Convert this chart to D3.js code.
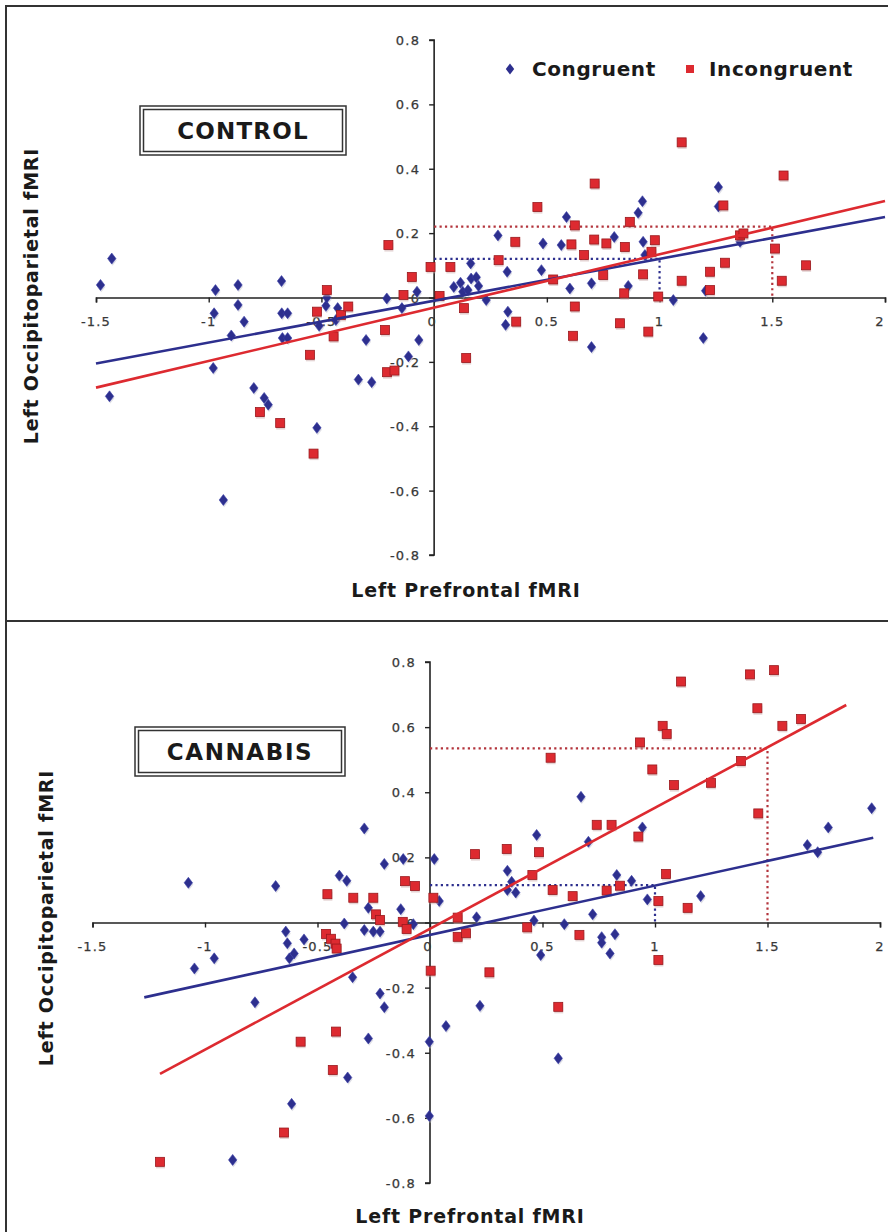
<!DOCTYPE html>
<html><head><meta charset="utf-8">
<script src="https://cdn.jsdelivr.net/npm/d3@7"></script>
<style>
body{margin:0;background:#fff;}
svg{display:block;font-family:"DejaVu Sans",Verdana,sans-serif;}
</style></head>
<body><svg id="chart" width="888" height="1232"></svg>
<script>
// ---------- DATA ----------
const xTicks = [-1.5,-1,-0.5,0,0.5,1,1.5,2];
const xTickLabels = ["-1.5","-1","-0.5","0","0.5","1","1.5","2"];
const yTicks = [-0.8,-0.6,-0.4,-0.2,0,0.2,0.4,0.6,0.8];
const yTickLabels = ["-0.8","-0.6","-0.4","-0.2","0","0.2","0.4","0.6","0.8"];
const seriesNames = ["Congruent","Incongruent"];
const panelTitles = ["CONTROL","CANNABIS"];

const controlCongruent = [[-1.48,0.039],[-1.43,0.121],[-1.44,-0.307],[-0.97,0.023],[-0.976,-0.049],[-0.98,-0.219],[-0.87,0.039],[-0.87,-0.023],[-0.843,-0.075],[-0.90,-0.118],[-0.80,-0.281],[-0.754,-0.312],[-0.736,-0.333],[-0.677,0.051],[-0.676,-0.049],[-0.65,-0.049],[-0.673,-0.126],[-0.65,-0.126],[-0.52,-0.405],[-0.48,-0.026],[-0.476,0.0],[-0.51,-0.088],[-0.428,-0.033],[-0.436,-0.07],[-0.302,-0.132],[-0.336,-0.255],[-0.277,-0.263],[-0.21,-0.003],[-0.143,-0.033],[-0.076,0.018],[-0.068,-0.132],[-0.114,-0.183],[-0.935,-0.629],[0.162,0.106],[0.087,0.033],[0.117,0.046],[0.127,0.018],[0.15,0.023],[0.164,0.059],[0.187,0.063],[0.197,0.036],[0.231,-0.008],[0.327,-0.044],[0.317,-0.085],[0.324,0.08],[0.483,0.168],[0.476,0.085],[0.283,0.193],[0.587,0.25],[0.564,0.163],[0.799,0.188],[0.905,0.263],[0.924,0.299],[0.927,0.173],[0.698,0.044],[0.602,0.028],[0.861,0.036],[0.935,0.132],[0.698,-0.154],[1.261,0.343],[1.261,0.283],[1.357,0.173],[1.204,0.021],[1.061,-0.008],[1.194,-0.126]];
const controlIncongruent = [[-0.203,0.163],[-0.099,0.064],[-0.016,0.095],[-0.136,0.008],[-0.476,0.023],[-0.52,-0.044],[-0.413,-0.054],[-0.381,-0.028],[-0.446,-0.121],[-0.218,-0.101],[-0.551,-0.178],[-0.209,-0.232],[-0.176,-0.227],[-0.773,-0.356],[-0.683,-0.39],[-0.535,-0.485],[0.024,0.005],[0.072,0.095],[0.142,-0.188],[0.132,-0.033],[0.286,0.116],[0.364,-0.075],[0.36,0.173],[0.458,0.281],[0.528,0.056],[0.624,0.224],[0.609,0.165],[0.712,0.354],[0.71,0.18],[0.764,0.168],[0.846,0.157],[0.868,0.235],[0.979,0.178],[0.665,0.132],[0.75,0.07],[0.927,0.072],[0.843,0.013],[0.624,-0.028],[0.616,-0.119],[0.824,-0.08],[0.95,-0.106],[0.994,0.003],[0.964,0.142],[1.098,0.482],[1.55,0.379],[1.283,0.286],[1.357,0.193],[1.372,0.199],[1.512,0.152],[1.29,0.108],[1.224,0.08],[1.098,0.052],[1.65,0.1],[1.542,0.052],[1.224,0.023]];
const cannabisCongruent = [[-1.074,0.122],[-0.686,0.112],[-0.292,0.289],[-0.403,0.144],[-0.37,0.128],[-0.203,0.18],[-0.119,0.195],[0.019,0.195],[-0.274,0.045],[-0.13,0.041],[-0.381,-0.003],[-0.292,-0.023],[-0.252,-0.028],[-0.222,-0.028],[-0.074,-0.005],[-0.641,-0.028],[-0.634,-0.064],[-0.56,-0.052],[-0.604,-0.095],[-0.625,-0.11],[-1.047,-0.141],[-0.959,-0.11],[-0.344,-0.168],[-0.222,-0.218],[-0.203,-0.26],[-0.778,-0.245],[-0.274,-0.356],[-0.366,-0.476],[-0.615,-0.557],[-0.877,-0.729],[-0.003,-0.366],[-0.003,-0.594],[0.071,-0.318],[0.222,-0.256],[0.57,-0.417],[0.041,0.066],[0.207,0.016],[0.344,0.159],[0.363,0.125],[0.344,0.1],[0.381,0.092],[0.474,0.269],[0.462,0.006],[0.492,-0.1],[0.597,-0.005],[0.704,0.248],[0.723,0.025],[0.763,-0.045],[0.763,-0.062],[0.8,-0.095],[0.822,-0.036],[0.83,0.146],[0.896,0.128],[0.944,0.292],[0.966,0.071],[1.203,0.081],[1.677,0.238],[1.723,0.216],[1.77,0.292],[1.963,0.351],[0.671,0.386]];
const cannabisIncongruent = [[-0.456,0.087],[-0.341,0.076],[-0.252,0.076],[-0.111,0.127],[-0.067,0.112],[0.015,0.076],[-0.24,0.025],[-0.222,0.008],[-0.121,0.002],[-0.104,-0.02],[-0.462,-0.035],[-0.44,-0.05],[-0.42,-0.065],[-0.415,-0.08],[0.003,-0.148],[-0.575,-0.366],[-0.418,-0.335],[-0.432,-0.453],[-0.649,-0.645],[-1.2,-0.735],[0.57,-0.259],[0.123,0.015],[0.123,-0.044],[0.16,-0.033],[0.2,0.21],[0.341,0.226],[0.455,0.146],[0.484,0.216],[0.432,-0.015],[0.545,0.1],[0.634,0.081],[0.664,-0.038],[0.264,-0.153],[0.741,0.3],[0.807,0.3],[0.785,0.098],[0.844,0.113],[0.926,0.264],[1.015,0.066],[1.049,0.149],[1.015,-0.115],[1.145,0.045],[0.536,0.506],[0.933,0.553],[1.034,0.604],[1.052,0.579],[1.116,0.74],[0.988,0.47],[1.084,0.422],[1.249,0.429],[1.382,0.496],[1.422,0.762],[1.529,0.775],[1.455,0.658],[1.566,0.604],[1.649,0.625],[1.459,0.335]];

// regression line endpoints
const controlCongruentFit = [[-1.5,-0.205],[2,0.25]];
const controlIncongruentFit = [[-1.5,-0.28],[2,0.30]];
const cannabisCongruentFit = [[-1.27,-0.23],[1.97,0.26]];
const cannabisIncongruentFit = [[-1.2,-0.465],[1.85,0.668]];
// dotted guide points [x, y]
const controlGuides = [[1,0.12],[1.5,0.22]];
const cannabisGuides = [[1,0.115],[1.5,0.535]];

// ---------- STYLE ----------
const BLUE = "#2d2f8e", RED = "#dd2a30";
const FONT = '"DejaVu Sans", Verdana, sans-serif';

const svg = d3.select("#chart");
svg.append("rect").attr("width",888).attr("height",1232).attr("fill","#fff");
// frame
svg.append("rect").attr("x",6).attr("y",6).attr("width",900).attr("height",1250)
  .attr("fill","none").attr("stroke","#333").attr("stroke-width",2);
svg.append("line").attr("x1",6).attr("x2",888).attr("y1",621).attr("y2",621)
  .attr("stroke","#333").attr("stroke-width",2);

function diamondPath(){ return "M0,-5.5L4.2,0L0,5.5L-4.2,0Z"; }

function drawPanel(p){
  const g = svg.append("g");
  const x = d3.scaleLinear().domain([-1.5,2]).range(p.xRange);
  const y = d3.scaleLinear().domain([-0.8,0.8]).range(p.yRange);

  // axes
  const xAxis = d3.axisBottom(x).tickValues(xTicks).tickSize(5).tickFormat("");
  const yAxis = d3.axisLeft(y).tickValues(yTicks).tickSize(5).tickFormat("");
  const gx = g.append("g").attr("transform",`translate(0,${y(0)})`).call(xAxis);
  const gy = g.append("g").attr("transform",`translate(${x(0)},0)`).call(yAxis);
  [gx,gy].forEach(a=>{a.select(".domain").attr("stroke","#222").attr("stroke-width",1.6);
    a.selectAll(".tick line").attr("stroke","#222").attr("stroke-width",1.4);});
  gy.select(".domain").attr("d",`M-5,${y(0.8)}H0V${y(-0.8)}H-5`);

  // tick labels
  g.selectAll(".xl").data(xTicks).join("text")
    .attr("x",(d,i)=> Math.min(x(d) + (d===0?-2:0), 880)).attr("y",y(0)+28)
    .attr("text-anchor","middle").attr("font-size",13).attr("letter-spacing",1.2)
    .attr("fill","#383838").attr("stroke","#383838").attr("stroke-width",0.25).attr("font-family",FONT)
    .text((d,i)=>xTickLabels[i]);
  g.selectAll(".yl").data(yTicks).join("text")
    .attr("x",x(0)-14).attr("y",d=>y(d)+5)
    .attr("text-anchor","end").attr("font-size",13).attr("letter-spacing",1.2)
    .attr("fill","#383838").attr("stroke","#383838").attr("stroke-width",0.25).attr("font-family",FONT)
    .text((d,i)=>yTickLabels[i]);

  // dotted guides
  const gc = [BLUE, "#b3343c"];
  p.guides.forEach((gd,i)=>{
    g.append("path").attr("d",`M${x(0)},${y(gd[1])}H${x(gd[0])}V${y(0)}`)
      .attr("fill","none").attr("stroke",gc[i]).attr("stroke-width",2.2)
      .attr("stroke-dasharray","2.2,3.2");
  });

  // markers - congruent (diamonds)
  g.selectAll(".bsh").data(p.cong).join("path")
    .attr("d",diamondPath()).attr("transform",d=>`translate(${x(d[0])+0.8},${y(d[1])+1.8})`)
    .attr("fill","#b8b8c8").attr("opacity",0.45);
  g.selectAll(".b").data(p.cong).join("path")
    .attr("d",diamondPath()).attr("transform",d=>`translate(${x(d[0])},${y(d[1])})`)
    .attr("fill",BLUE).attr("stroke","#3a3fa8").attr("stroke-width",0.6);
  // incongruent (squares)
  g.selectAll(".rsh").data(p.incong).join("rect")
    .attr("x",d=>x(d[0])-4.5+0.5).attr("y",d=>y(d[1])-4.5+2).attr("width",9).attr("height",9)
    .attr("fill","#c9a8a8").attr("opacity",0.5);
  g.selectAll(".r").data(p.incong).join("rect")
    .attr("x",d=>x(d[0])-4.5).attr("y",d=>y(d[1])-4.5).attr("width",9).attr("height",9)
    .attr("fill",RED).attr("stroke","#9a1a1e").attr("stroke-width",0.8);

  // regression lines
  const line = d3.line().x(d=>x(d[0])).y(d=>y(d[1]));
  g.append("path").attr("d",line(p.congFit)).attr("stroke",BLUE).attr("stroke-width",2.6).attr("fill","none");
  g.append("path").attr("d",line(p.incongFit)).attr("stroke",RED).attr("stroke-width",2.6).attr("fill","none");

  // title box
  const b = p.box;
  g.append("rect").attr("x",b[0]).attr("y",b[1]).attr("width",b[2]).attr("height",b[3])
    .attr("fill","#fff").attr("stroke","#333").attr("stroke-width",1.5);
  g.append("rect").attr("x",b[0]+3.5).attr("y",b[1]+3.5).attr("width",b[2]-7).attr("height",b[3]-7)
    .attr("fill","none").attr("stroke","#333").attr("stroke-width",1.5);
  g.append("text").attr("x",b[0]+b[2]/2).attr("y",b[1]+b[3]/2+8)
    .attr("text-anchor","middle").attr("font-size",23).attr("font-weight","bold")
    .attr("letter-spacing",p.titleSpacing)
    .attr("fill","#1a1a1a").attr("font-family",FONT).text(p.title);

  // axis titles
  g.append("text").attr("transform",`translate(${p.yTitle[0]},${p.yTitle[1]}) rotate(-90)`)
    .attr("text-anchor","middle").attr("font-size",19).attr("font-weight","bold").attr("letter-spacing",0.8)
    .attr("fill","#1a1a1a").attr("font-family",FONT).text("Left Occipitoparietal fMRI");
  g.append("text").attr("x",p.xTitle[0]).attr("y",p.xTitle[1])
    .attr("text-anchor","middle").attr("font-size",19).attr("font-weight","bold").attr("letter-spacing",0.8)
    .attr("fill","#1a1a1a").attr("font-family",FONT).text("Left Prefrontal fMRI");

  // legend
  if (p.legend){
    const lg = g.append("g");
    lg.append("path").attr("d",diamondPath()).attr("transform","translate(510,69)").attr("fill",BLUE);
    lg.append("text").attr("x",532).attr("y",76).attr("font-size",20).attr("font-weight","bold").attr("letter-spacing",0.6)
      .attr("fill","#1a1a1a").attr("font-family",FONT).text(seriesNames[0]);
    lg.append("rect").attr("x",686).attr("y",65).attr("width",8).attr("height",8).attr("fill",RED);
    lg.append("text").attr("x",709).attr("y",76).attr("font-size",20).attr("font-weight","bold").attr("letter-spacing",0.6)
      .attr("fill","#1a1a1a").attr("font-family",FONT).text(seriesNames[1]);
  }
}

drawPanel({
  xRange:[96,885], yRange:[555,40],
  cong:controlCongruent, incong:controlIncongruent,
  congFit:controlCongruentFit, incongFit:controlIncongruentFit,
  guides:controlGuides, box:[140,106,206,49], title:panelTitles[0], titleSpacing:1.2,
  yTitle:[38,296], xTitle:[466,597], legend:true
});
drawPanel({
  xRange:[92.5,880], yRange:[1183,662],
  cong:cannabisCongruent, incong:cannabisIncongruent,
  congFit:cannabisCongruentFit, incongFit:cannabisIncongruentFit,
  guides:cannabisGuides, box:[135,727,210,49], title:panelTitles[1], titleSpacing:1.6,
  yTitle:[53,918], xTitle:[470,1223], legend:false
});
</script></body></html>
